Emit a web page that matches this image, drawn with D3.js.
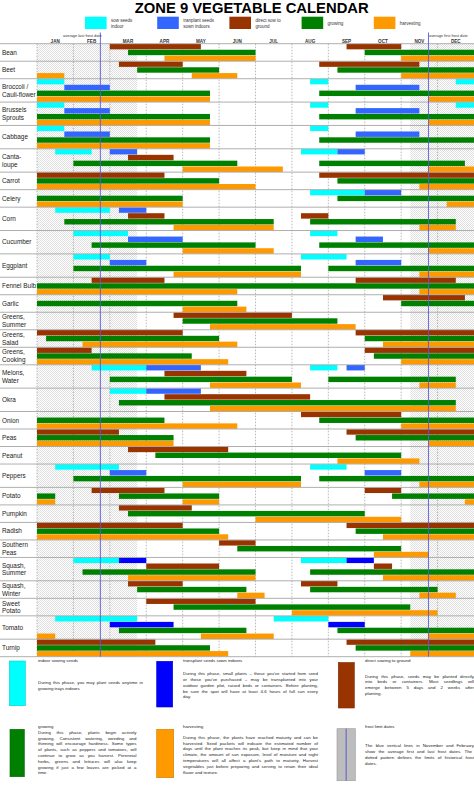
<!DOCTYPE html>
<html>
<head>
<meta charset="utf-8">
<script src="https://cdnjs.cloudflare.com/ajax/libs/d3/7.8.5/d3.min.js"></script>
<style>
  body { margin: 0; background: #fff; }
  svg { display: block; font-family: "Liberation Sans", Arial, sans-serif; }
</style>
</head>
<body>
<div id="vis"></div>
<script>
// Frame constants
const FRAME_WIDTH = 474;
const FRAME_HEIGHT = 798;
const CHART = {left: 37, right: 474, top: 43.7, bottom: 656.7};

// Categories (| marks a line break in the label) and lanes per vegetable
const VEGETABLES = ["Bean", "Beet", "Broccoli /|Cauli-flower", "Brussels|Sprouts", "Cabbage",
  "Canta-|loupe", "Carrot", "Celery", "Corn", "Cucumber", "Eggplant", "Fennel Bulb", "Garlic",
  "Greens,|Summer", "Greens,|Salad", "Greens,|Cooking", "Melons,|Water", "Okra", "Onion", "Peas",
  "Peanut", "Peppers", "Potato", "Pumpkin", "Radish", "Southern|Peas", "Squash,|Summer",
  "Squash,|Winter", "Sweet|Potato", "Tomato", "Turnip"];
const LANES = [3, 3, 4, 4, 4, 4, 3, 3, 4, 4, 4, 3, 3, 3, 3, 3, 4, 4, 3, 3, 3, 4, 3, 3, 3, 3, 4, 3, 3, 4, 3];

const MONTHS = ["JAN", "FEB", "MAR", "APR", "MAY", "JUN", "JUL", "AUG", "SEP", "OCT", "NOV", "DEC"];

// Frost dates in months from Jan 1
const LAST_FROST = 1.74;
const FIRST_FROST = 10.75;
const FROST_LIMITS = [[0, 2.75], [10.25, 12]];

// Series: [vegetable index, lane, start month, end month]
const SOW = [
  [2,0,0,0.75],[2,0,7.5,8],[2,0,11.5,12], [3,0,0,0.75],[3,0,7.5,8],[3,0,11.5,12],
  [4,0,0,0.75],[4,0,7.5,8], [5,0,0.5,1.5],[5,0,7.25,8.25], [7,0,7.5,9], [8,0,0.5,2],
  [9,0,1,2.5],[9,0,7.5,8.25], [10,0,1,2],[10,0,7.25,8.5], [16,0,1.5,3],[16,0,7.5,8.25],
  [17,0,2,3], [21,0,0.5,2.25],[21,0,7.5,8.5], [26,0,1,2.25],[26,0,7.25,8.5],
  [29,0,0.5,2.75],[29,0,6.5,8]
];
const TRANSPLANT = [
  [2,1,0.75,2],[2,1,8.75,10.5], [3,1,0.75,2],[3,1,8.75,10.5], [4,1,0.75,2],[4,1,8.75,10.5],
  [5,0,2,2.75],[5,0,8.25,9], [7,0,9,10], [8,0,2.25,3], [9,1,2.5,4],[9,1,8.75,9.5],
  [10,1,2,3],[10,1,8.75,10], [16,0,3,4.5],[16,0,8.5,9], [17,0,3,4.5], [21,1,2,3],[21,1,9,10]
];
const TRANSPLANT_DARK = [
  [26,0,2.25,3],[26,0,8.5,9.25], [29,1,2,3.75],[29,1,8,9]
];
const DIRECT = [
  [0,0,2,4.5],[0,0,8.5,10], [1,0,2.25,4],[1,0,7.75,10.5], [5,1,2.5,3.75],
  [6,0,0,3.5],[6,0,7.75,12], [8,1,2.5,3.5],[8,1,7.25,8], [11,0,1.5,3.5],[11,0,8.75,11.5],
  [12,0,9.5,11.75], [13,0,3.75,7], [14,0,0,4],[14,0,8.75,12], [15,0,0,1.5],[15,0,9,12],
  [16,1,3.5,5.75], [17,1,3.5,7.5], [18,0,7.25,10], [19,0,0,2.25],[19,0,8.5,12],
  [20,0,2.5,5.25], [22,0,1.5,3.5],[22,0,9,10], [23,0,2.25,4.25], [24,0,0,4],[24,0,8.5,12],
  [25,0,5,6], [26,1,3,5],[26,1,9.25,9.75], [27,0,2.5,4],[27,0,7.25,8.25], [28,0,3,6],
  [30,0,0,3.25],[30,0,8.5,12]
];
const GROWING = [
  [0,1,2.5,6],[0,1,9,12], [1,1,2.75,5],[1,1,8.25,12], [2,2,0,4.75],[2,2,7.75,12],
  [3,2,0,4.75],[3,2,7.75,12], [4,2,0,4.75],[4,2,7.75,12], [5,2,1,5.5],[5,2,7.75,11.75],
  [6,1,0,5],[6,1,8.25,12], [7,1,0,4],[7,1,8.25,12], [8,2,0.75,6.5],[8,2,7.5,11.5],
  [9,2,1.5,6],[9,2,7.75,12], [10,2,1,7.25],[10,2,8,12], [11,1,0,12], [12,1,0,5.5],[12,1,10,12],
  [13,1,4,8.25], [14,1,0.25,5],[14,1,9,12], [15,1,0,4.25],[15,1,9.25,12],
  [16,2,2,7],[16,2,8,11.5], [17,2,2.25,11.5], [18,1,0,3.5],[18,1,7.75,12],
  [19,1,0,3.75],[19,1,8.75,12], [20,1,3.25,10], [21,2,1,7.25],[21,2,7.75,12],
  [22,1,0,0.5],[22,1,2.25,5],[22,1,9.75,12], [23,1,2.5,9], [24,1,0,5],[24,1,8.75,12],
  [25,1,5.5,10], [26,2,1.25,6],[26,2,7.5,12], [27,1,2.75,5.75],[27,1,7.5,11],
  [28,1,3.75,10.25], [29,2,2.25,5.75],[29,2,8.25,12], [30,1,0,4.75],[30,1,8.75,12]
];
const HARVEST = [
  [0,2,3.5,6],[0,2,10,12], [1,2,0,0.75],[1,2,4.25,5.5],[1,2,10,12], [2,3,0,4.75],[2,3,10.75,12],
  [3,3,0,4.75],[3,3,10.75,12], [4,3,0,4.75], [5,3,4,6.75],[5,3,10.75,12], [6,2,0,6],[6,2,10.5,12],
  [7,2,0,4],[7,2,11.25,12], [8,3,3.75,6.5],[8,3,10.5,11.5], [9,3,4,6.5],[9,3,10.75,12],
  [10,3,3.75,7.25],[10,3,10.5,12], [11,2,0,5.5],[11,2,10.5,12], [12,2,4,5.75], [13,2,4.75,8.75],
  [14,2,1.25,5.5],[14,2,9.5,12], [15,2,0,5.25],[15,2,10,12], [16,3,4.75,7.25],[16,3,10.5,11.5],
  [17,3,4.75,11.5], [18,2,0,5.5],[18,2,10,12], [19,2,0,3.75],[19,2,10.75,12], [20,2,8.25,10.5],
  [21,3,4,7.25],[21,3,10.5,12], [22,2,0,0.5],[22,2,4,5],[22,2,11.75,12], [23,2,6,10],
  [24,2,0,5.25],[24,2,9.5,12], [25,2,9.25,10.75], [26,3,2.5,6],[26,3,9.5,12],
  [27,2,5.5,6.25],[27,2,10.5,11.5], [28,2,7,11], [29,3,0,0.5],[29,3,4.5,6.5],[29,3,10.75,12],
  [30,2,0,5.25],[30,2,10.25,12]
];

// Colours per series
const COLORS = {sow: "#00ffff", transplant: "#3366ff", transplantDark: "#0000ff",
  direct: "#993300", growing: "#008000", harvest: "#ff9900"};

// Header legend
const KEY_LABELS = [["sow seeds", "indoor"], ["tranplant seeds", "sown indoors"],
  ["direct sow to", "ground"], ["growing"], ["harvesting"]];
const KEY_COLORS = [COLORS.sow, COLORS.transplant, COLORS.direct, COLORS.growing, COLORS.harvest];

// Footer notes
const NOTE_TITLES = ["indoor sowing seeds", "transplant seeds sown indoors", "direct sowing to ground",
  "growing", "harvesting", "frost limit dates"];
const NOTE_LINES = [
  ["During this phase, you may plant seeds anytime in", "growing trays indoors"],
  ["During this phase, small plants \u2013 those you've started from seed",
   "or those you've purchased \u2013 may be transplanted into your",
   "outdoor garden plot, raised beds or containers. Before planting,",
   "be sure the spot will have at least 4-6 hours of full sun every", "day."],
  ["During this phase, seeds may be planted directly", "into beds or containers. Most seedlings will",
   "emerge between 5 days and 2 weeks after", "planting."],
  ["During this phase, plants begin actively", "growing. Consistent watering, weeding and",
   "thinning will encourage hardiness. Some types", "of plants, such as peppers and tomatoes, will",
   "continue to grow as you harvest. Perennial", "herbs, greens and lettuces will also keep",
   "growing if just a few leaves are picked at a", "time."],
  ["During this phase, the plants have reached maturity and can be",
   "harvested. Seed packets will indicate the estimated number of",
   "days until the plant reaches its peak, but keep in mind that your",
   "climate, the amount of sun exposure, level of moisture and night",
   "temperatures will all affect a plant's path to maturity. Harvest",
   "vegetables just before preparing and serving to retain their ideal", "flavor and texture."],
  ["The blue vertical lines in November and February", "show the average first and last frost dates.  The",
   "dotted pattern defines the limits of historical frost", "dates."]
];
const NOTE_COLORS = [COLORS.sow, COLORS.transplantDark, COLORS.direct, COLORS.growing, COLORS.harvest, "#bdbdbd"];

// Footer layout (rect x, y, w, h; text x, first line baseline, width, title baseline)
const NOTE_LAYOUT = [
  {rx: 9.3, ry: 661, rw: 16, rh: 44.7, tx: 38, ly: 683.8, w: 105, ty: 661.6},
  {rx: 156.7, ry: 661.3, rw: 16, rh: 45.7, tx: 183, ly: 675.2, w: 135, ty: 661.6},
  {rx: 338.3, ry: 662.5, rw: 16, rh: 45.5, tx: 365, ly: 677.5, w: 109, ty: 661.6},
  {rx: 10, ry: 729.3, rw: 14.3, rh: 47.4, tx: 38, ly: 733.8, w: 98.5, ty: 727.8},
  {rx: 156.7, ry: 729.3, rw: 17, rh: 48.4, tx: 183, ly: 738.8, w: 135, ty: 727.8},
  {rx: 337, ry: 728.7, rw: 18.3, rh: 52, tx: 365, ly: 747.2, w: 109, ty: 727.8}
];

// Lane offsets for every vegetable
const TOTAL_LANES = d3.sum(LANES);
const LANE_START = LANES.map((d, i) => d3.sum(LANES.slice(0, i)));

// Scales
const X_SCALE = d3.scaleLinear().domain([0, 12]).range([CHART.left, CHART.right]);
const Y_SCALE = d3.scaleLinear().domain([0, TOTAL_LANES]).range([CHART.top, CHART.bottom]);
const LANE_H = Y_SCALE(1) - Y_SCALE(0);

const FRAME = d3.select("#vis")
  .append("svg")
    .attr("width", FRAME_WIDTH)
    .attr("height", FRAME_HEIGHT);

// Dotted pattern for the frost limits
const pat = FRAME.append("defs").append("pattern")
  .attr("id", "dots")
  .attr("width", 2).attr("height", 2)
  .attr("patternUnits", "userSpaceOnUse");
pat.append("rect").attr("width", 0.7).attr("height", 0.7).attr("fill", "#bdbdbd");
pat.append("rect").attr("x", 1).attr("y", 1).attr("width", 0.7).attr("height", 0.7).attr("fill", "#bdbdbd");

// Title
FRAME.append("text")
  .attr("x", 251.7).attr("y", 13.4)
  .attr("text-anchor", "middle")
  .attr("font-size", 14.8).attr("font-weight", "bold")
  .text("ZONE 9 VEGETABLE CALENDAR");

// Header key
const key = FRAME.selectAll(".key")
  .data(KEY_LABELS)
  .enter()
  .append("g")
    .attr("transform", (d, i) => "translate(" + (85 + i * 72.2) + ",16.7)");
key.append("rect")
  .attr("width", 21.6).attr("height", 12.3)
  .attr("fill", (d, i) => KEY_COLORS[i]);
key.selectAll("text")
  .data(d => d)
  .enter()
  .append("text")
    .attr("x", 26)
    .attr("y", (d, i, n) => n.length === 1 ? 8.2 : 5.6 + i * 5.8)
    .attr("font-size", 4.5)
    .attr("fill", "#333")
    .text(d => d);

// Frost limit stipple
FRAME.selectAll(".stipple")
  .data(FROST_LIMITS)
  .enter()
  .append("rect")
    .attr("x", d => X_SCALE(d[0]))
    .attr("y", CHART.top)
    .attr("width", d => X_SCALE(d[1]) - X_SCALE(d[0]))
    .attr("height", CHART.bottom - CHART.top)
    .attr("fill", "url(#dots)");

// Month grid
FRAME.selectAll(".grid")
  .data(d3.range(12))
  .enter()
  .append("line")
    .attr("x1", d => X_SCALE(d)).attr("x2", d => X_SCALE(d))
    .attr("y1", CHART.top).attr("y2", CHART.bottom)
    .attr("stroke", "#8a8a8a")
    .attr("stroke-width", 0.6)
    .attr("stroke-dasharray", "1.5,1.5");

FRAME.selectAll(".month")
  .data(MONTHS)
  .enter()
  .append("text")
    .attr("x", (d, i) => X_SCALE(i + 0.5))
    .attr("y", 42.9)
    .attr("text-anchor", "middle")
    .attr("font-size", 4.6).attr("font-weight", "bold")
    .attr("fill", "#333")
    .text(d => d);

// Bars
const SERIES = [
  {data: SOW, color: COLORS.sow},
  {data: TRANSPLANT, color: COLORS.transplant},
  {data: TRANSPLANT_DARK, color: COLORS.transplantDark},
  {data: DIRECT, color: COLORS.direct},
  {data: GROWING, color: COLORS.growing},
  {data: HARVEST, color: COLORS.harvest}
];
SERIES.forEach(s => {
  FRAME.append("g").selectAll("rect")
    .data(s.data)
    .enter()
    .append("rect")
      .attr("x", d => X_SCALE(d[2]))
      .attr("y", d => Y_SCALE(LANE_START[d[0]] + d[1]) + 0.2)
      .attr("width", d => X_SCALE(d[3]) - X_SCALE(d[2]))
      .attr("height", LANE_H - 0.4)
      .attr("fill", s.color);
});

// Row separators
FRAME.selectAll(".sep")
  .data(LANE_START.concat([TOTAL_LANES]))
  .enter()
  .append("line")
    .attr("x1", 0).attr("x2", FRAME_WIDTH)
    .attr("y1", d => Y_SCALE(d)).attr("y2", d => Y_SCALE(d))
    .attr("stroke", "#a6a6a6")
    .attr("stroke-width", 0.9);

// Row labels
const label = FRAME.selectAll(".label")
  .data(VEGETABLES)
  .enter()
  .append("text")
    .attr("font-size", 6.4)
    .attr("fill", "#222");
label.selectAll("tspan")
  .data((d, i) => d.split("|").map((t, j, a) => ({t: t, j: j, n: a.length, i: i})))
  .enter()
  .append("tspan")
    .attr("x", 2)
    .attr("y", d => Y_SCALE(LANE_START[d.i] + LANES[d.i] / 2) + 2.3 + (d.j - (d.n - 1) / 2) * 7.7)
    .text(d => d.t);

// Frost lines
FRAME.selectAll(".frost")
  .data([LAST_FROST, FIRST_FROST])
  .enter()
  .append("line")
    .attr("x1", d => X_SCALE(d)).attr("x2", d => X_SCALE(d))
    .attr("y1", 32.5).attr("y2", CHART.bottom)
    .attr("stroke", "#5a5ad8")
    .attr("stroke-width", 0.9);

FRAME.append("text")
  .attr("x", X_SCALE(LAST_FROST) - 18).attr("y", 36.6)
  .attr("text-anchor", "middle")
  .attr("font-size", 3.9).attr("fill", "#333")
  .text("average last frost date");
FRAME.append("text")
  .attr("x", X_SCALE(FIRST_FROST) + 0.5).attr("y", 36.6)
  .attr("font-size", 3.9).attr("fill", "#333")
  .text("average first frost date");

// Footer notes
const note = FRAME.selectAll(".note")
  .data(NOTE_LAYOUT)
  .enter()
  .append("g");
note.append("rect")
  .attr("x", d => d.rx).attr("y", d => d.ry)
  .attr("width", d => d.rw).attr("height", d => d.rh)
  .attr("fill", (d, i) => NOTE_COLORS[i])
  .attr("stroke", (d, i) => d3.color(NOTE_COLORS[i]).darker(0.6))
  .attr("stroke-width", 0.6);
note.filter((d, i) => i === 5)
  .append("line")
    .attr("x1", d => d.rx + d.rw / 2).attr("x2", d => d.rx + d.rw / 2)
    .attr("y1", d => d.ry).attr("y2", d => d.ry + d.rh)
    .attr("stroke", "#5a5ad8").attr("stroke-width", 1);
note.append("text")
  .attr("x", d => d.tx).attr("y", d => d.ty)
  .attr("font-size", 4.4).attr("fill", "#222")
  .text((d, i) => NOTE_TITLES[i]);
note.each(function(d, i) {
  const lines = NOTE_LINES[i];
  d3.select(this).selectAll(".line")
    .data(lines)
    .enter()
    .append("text")
      .attr("x", d.tx)
      .attr("y", (t, j) => d.ly + j * 5.8)
      .attr("font-size", 4.4)
      .attr("fill", "#222")
      .text(t => t)
      .each(function(t, j) {
        // justify every line but the last
        if (j === lines.length - 1) return;
        const gaps = t.split(" ").length - 1;
        const extra = d.w - this.getComputedTextLength();
        if (gaps > 0) d3.select(this).attr("word-spacing", extra / gaps);
      });
});
</script>
</body>
</html>
